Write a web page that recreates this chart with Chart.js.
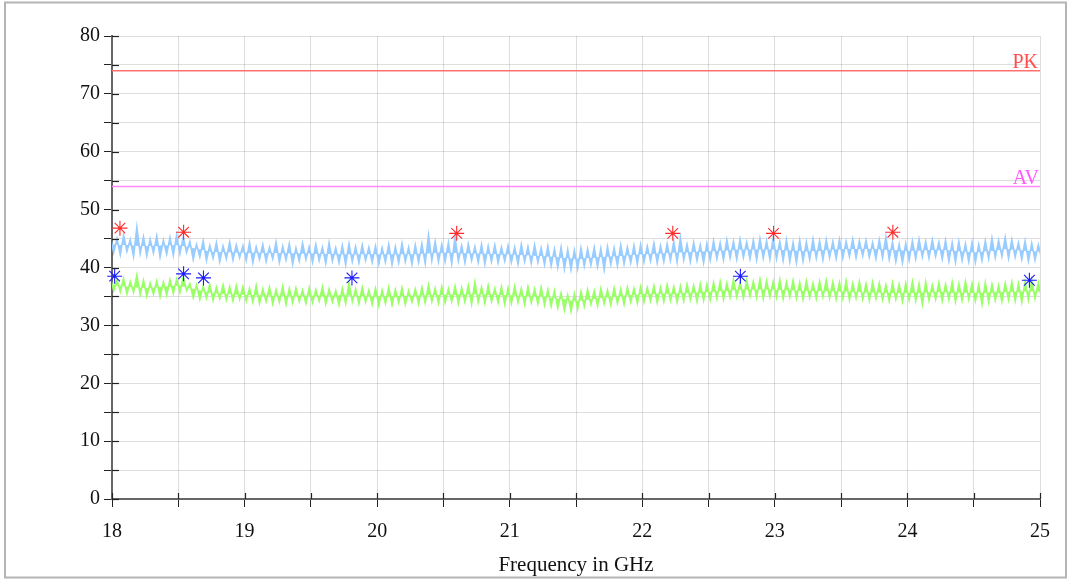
<!DOCTYPE html>
<html>
<head>
<meta charset="utf-8">
<script src="https://cdn.jsdelivr.net/npm/chart.js@4"></script>
<style>
  html, body { margin:0; padding:0; background:#fff; }
  #wrap { position:absolute; left:0; top:0; width:1068px; height:580px; }
</style>
</head>
<body>
<div id="wrap"><canvas id="chart" width="1068" height="580"></canvas></div>
<script>
// frequency axis (GHz) and level axis (dBµV/m)
const xMin = 18, xMax = 25;
const yMin = 0, yMax = 80;

// limit lines
const limitPK = 74;
const limitAV = 54;

// trace envelope, one bin every 0.05 GHz starting at 18.00 (hi = top of noise, lo = bottom)
const traceStart = 18;
const traceStep = 0.05;

const peakHi = [
  45.4, 45.0, 45.6, 44.8, 47.0, 45.3, 44.9, 45.5, 44.7, 45.2,
  45.6, 45.3, 44.5, 44.0, 44.6, 43.8, 44.3, 43.7, 44.4, 43.9,
  43.8, 44.3, 43.6, 44.0, 43.5, 44.4, 43.7, 44.1, 43.4, 44.2,
  43.6, 44.0, 43.5, 44.3, 43.4, 43.8, 44.1, 43.6, 43.9, 43.5,
  43.7, 43.4, 44.0, 43.6, 44.2, 43.5, 43.9, 44.1, 45.6, 44.5,
  44.0, 44.3, 45.3, 43.8, 44.1, 43.6, 44.0, 43.7, 43.9, 43.5,
  43.8, 43.5, 44.0, 43.6, 43.9, 43.4, 43.7, 43.2, 43.5, 43.1,
  43.0, 43.4, 43.2, 43.5, 43.3, 43.6, 43.4, 43.9, 43.5, 43.8,
  44.0, 43.7, 44.2, 43.8, 44.1, 44.5, 45.2, 44.0, 44.3, 43.9,
  44.2, 44.6, 44.3, 44.8, 44.5, 44.9, 44.4, 44.7, 45.0, 44.6,
  45.2, 44.5, 44.8, 44.3, 44.7, 44.4, 44.9, 44.6, 44.8, 44.5,
  44.8, 44.5, 44.9, 44.6, 44.7, 44.3, 44.8, 45.3, 44.4, 44.0,
  44.2, 44.6, 44.9, 44.5, 44.8, 44.4, 44.7, 44.3, 44.5, 44.1,
  44.4, 44.0, 44.6, 45.1, 44.7, 45.2, 44.8, 44.3, 44.6, 44.2,
  43.9
];
const peakLo = [
  42.6, 42.2, 42.8, 41.9, 42.4, 42.0, 42.5, 41.8, 42.3, 42.1,
  42.4, 42.6, 41.4, 41.8, 41.2, 41.6, 41.0, 41.5, 41.3, 41.7,
  41.2, 40.8, 41.4, 41.0, 41.5, 40.9, 41.3, 40.6, 41.1, 41.4,
  40.9, 41.2, 40.7, 41.1, 40.8, 40.5, 41.0, 40.8, 41.2, 40.9,
  40.6, 40.9, 40.5, 40.8, 41.0, 40.6, 40.9, 40.7, 41.2, 41.0,
  41.0, 40.7, 41.1, 40.8, 41.2, 40.9, 40.6, 41.0, 40.8, 41.1,
  40.9, 40.6, 41.0, 40.7, 40.9, 40.5, 40.3, 40.0, 39.7, 39.6,
  39.8, 40.2, 40.4, 40.1, 39.6, 40.5, 40.3, 40.6, 40.8, 40.6,
  40.9, 41.1, 40.8, 41.0, 41.2, 40.9, 41.3, 41.0, 41.2, 40.8,
  41.2, 41.5, 41.3, 41.6, 41.4, 41.7, 41.5, 41.3, 41.6, 41.4,
  41.5, 41.2, 41.0, 40.8, 41.1, 41.4, 41.6, 41.3, 41.7, 41.5,
  41.6, 41.9, 41.7, 42.0, 41.8, 41.5, 41.7, 41.4, 41.0, 40.8,
  41.2, 41.5, 41.8, 41.6, 41.9, 41.4, 41.1, 40.9, 41.2, 41.0,
  40.9, 41.2, 41.5, 41.7, 41.9, 41.6, 41.8, 41.4, 41.1, 41.3,
  41.4
];
const avgHi = [
  38.3, 37.9, 38.1, 37.6, 38.7, 37.8, 37.3, 37.7, 37.5, 37.9,
  38.0, 38.4, 37.2, 37.0, 36.8, 37.1, 36.6, 37.0, 36.7, 36.9,
  36.7, 36.4, 36.9, 36.3, 36.6, 36.2, 36.8, 36.4, 36.5, 36.1,
  36.5, 36.2, 36.7, 36.3, 36.0, 36.4, 37.4, 36.3, 36.6, 36.1,
  36.4, 36.1, 36.6, 36.2, 36.5, 36.0, 36.3, 36.6, 37.0, 36.4,
  36.7, 36.3, 36.8, 36.5, 36.9, 37.5, 36.6, 36.9, 36.4, 36.7,
  36.5, 36.8, 36.4, 36.7, 36.3, 36.6, 36.2, 36.0, 35.6, 35.3,
  35.5, 35.9, 36.2, 36.0, 36.4, 36.1, 36.5, 36.3, 36.6, 36.4,
  36.7, 36.5, 36.9, 36.6, 37.0, 36.7, 36.8, 37.1, 36.9, 37.2,
  37.1, 37.4, 37.6, 37.3, 37.9, 37.5, 37.8, 37.6, 38.0, 37.7,
  37.6, 37.9, 37.5, 37.8, 37.4, 37.7, 37.3, 37.6, 37.8, 37.5,
  37.4, 37.7, 37.3, 37.6, 37.2, 37.5, 37.3, 37.0, 37.4, 37.1,
  37.3, 37.6, 37.2, 37.5, 37.0, 37.4, 37.1, 37.5, 37.2, 37.6,
  37.3, 37.0, 37.4, 37.1, 36.9, 37.3, 37.5, 37.2, 37.6, 37.9,
  37.4
];
const avgLo = [
  36.0, 35.8, 35.4, 35.7, 35.3, 35.0, 35.4, 34.9, 35.2, 35.5,
  35.7, 36.0, 34.8, 34.5, 34.7, 34.3, 34.6, 34.4, 34.2, 34.5,
  34.2, 34.0, 33.8, 34.1, 33.7, 34.0, 33.6, 33.9, 34.1, 33.8,
  33.9, 34.2, 33.7, 34.0, 33.5, 33.8, 34.1, 33.7, 34.0, 33.6,
  33.4, 33.8, 33.5, 33.9, 33.6, 34.0, 33.7, 33.9, 34.1, 33.8,
  33.9, 34.1, 33.8, 34.0, 33.7, 34.0, 33.8, 34.1, 33.9, 33.6,
  33.8, 34.0, 33.6, 33.9, 33.7, 33.5, 33.3, 33.0, 32.6, 32.4,
  32.8, 33.3, 33.6, 33.4, 33.7, 33.5, 33.8, 33.6, 34.0, 33.8,
  34.0, 34.2, 33.9, 34.1, 34.3, 34.0, 34.2, 34.4, 34.1, 34.3,
  34.4, 34.6, 34.5, 34.8, 34.9, 34.7, 35.0, 34.8, 34.6, 34.9,
  34.8, 34.6, 34.9, 34.7, 34.5, 34.8, 34.6, 34.9, 34.7, 34.5,
  34.6, 34.4, 34.7, 34.5, 34.3, 34.6, 34.4, 34.2, 34.5, 34.1,
  34.4, 34.2, 33.6, 34.3, 34.5, 34.2, 34.4, 34.1, 34.3, 34.5,
  34.2, 33.6, 34.0, 34.3, 34.1, 34.4, 34.2, 34.0, 34.4, 34.6,
  34.5
];

// middle of each noise band, read every 0.25 GHz from 18.00
const centerStep = 0.25;
const peakMid = [
  44.0, 43.7, 43.9, 42.7, 42.6, 42.5, 42.4, 42.3, 42.3, 42.3,
  42.6, 42.4, 42.3, 42.0, 41.5, 41.9, 42.3, 42.6, 42.8, 43.1,
  43.1, 42.8, 43.2, 43.2, 42.9, 43.1, 42.6, 43.2, 42.7
];
const avgMid = [
  37.0, 36.4, 36.9, 35.6, 35.3, 35.1, 35.1, 35.2, 35.0, 35.1,
  35.3, 35.4, 35.2, 35.0, 34.2, 34.9, 35.4, 35.5, 35.8, 36.2,
  36.2, 36.0, 35.9, 35.7, 35.6, 35.8, 35.6, 35.8, 35.9
];

// marked peaks
const pkMarkFreq = [18.06, 18.54, 20.60, 22.23, 22.99, 23.89];
const pkMarkLevel = [46.8, 46.1, 45.9, 45.9, 45.9, 46.1];
const avMarkFreq = [18.02, 18.54, 18.69, 19.81, 22.74, 24.92];
const avMarkLevel = [38.5, 38.9, 38.2, 38.2, 38.5, 37.8];

const serif = "'Liberation Serif', 'Times New Roman', serif";

function envelope(hi, lo){
  const pts = [];
  for(let i=0;i<hi.length;i++){
    const f = traceStart + i*traceStep;
    pts.push({x: f - traceStep/4, y: hi[i]});
    pts.push({x: f + traceStep/4, y: lo[i]});
  }
  return pts;
}
const midLine = (arr) => arr.map((v,i)=>({x: traceStart + i*centerStep, y: v}));
const pairs = (xs, ys) => xs.map((x,i)=>({x, y: ys[i]}));

// outer frame, inner tick halves and limit labels
const decor = {
  id:'decor',
  beforeDraw(chart){
    const c = chart.ctx;
    c.save();
    c.fillStyle = '#fff';
    c.fillRect(0,0,chart.width,chart.height);
    c.strokeStyle = '#b4b4b4';
    c.lineWidth = 2;
    c.strokeRect(5, 2.5, 1061, 575);
    c.restore();
  },
  afterDraw(chart){
    const c = chart.ctx, xs = chart.scales.x, ys = chart.scales.y;
    c.save();
    c.strokeStyle = '#222';
    c.lineWidth = 1.2;
    ys.ticks.forEach(t=>{
      const py = Math.round(ys.getPixelForValue(t.value)) + 0.5;
      c.beginPath(); c.moveTo(xs.left, py); c.lineTo(xs.left + 7, py); c.stroke();
    });
    xs.ticks.forEach(t=>{
      const px = Math.round(xs.getPixelForValue(t.value)) + 0.5;
      c.beginPath(); c.moveTo(px, ys.bottom); c.lineTo(px, ys.bottom - 6); c.stroke();
    });
    c.font = "20px " + serif;
    c.textAlign = 'right';
    c.textBaseline = 'alphabetic';
    c.fillStyle = '#ff4d4d';
    c.fillText('PK', xs.getPixelForValue(xMax) - 2, ys.getPixelForValue(limitPK) - 2.5);
    c.fillStyle = '#ff55ff';
    c.fillText('AV', xs.getPixelForValue(xMax) - 1, ys.getPixelForValue(limitAV) - 2.5);
    c.restore();
  }
};

new Chart(document.getElementById('chart'), {
  type:'line',
  data:{
    datasets:[
      { type:'scatter', label:'PK peaks', data: pairs(pkMarkFreq, pkMarkLevel), order:0, clip:false,
        pointStyle:'star', pointRadius:7.5, borderColor:'#ff2a2a', backgroundColor:'#ff2a2a', borderWidth:1.1 },
      { type:'scatter', label:'AV peaks', data: pairs(avMarkFreq, avMarkLevel), order:0, clip:false,
        pointStyle:'star', pointRadius:7.5, borderColor:'#1a1aff', backgroundColor:'#1a1aff', borderWidth:1.1 },
      { label:'PK limit', data:[{x:xMin,y:limitPK},{x:xMax,y:limitPK}], order:1,
        borderColor:'#ff7070', borderWidth:1.5, pointRadius:0 },
      { label:'AV limit', data:[{x:xMin,y:limitAV},{x:xMax,y:limitAV}], order:1,
        borderColor:'#ff88ff', borderWidth:1.5, pointRadius:0 },
      { label:'Peak', data: envelope(peakHi, peakLo), order:2, fill:5,
        borderColor:'#99ccff', backgroundColor:'#99ccff', borderWidth:1.6, pointRadius:0, tension:0 },
      { label:'Peak mid', data: midLine(peakMid), order:3,
        borderColor:'#99ccff', borderWidth:0, pointRadius:0 },
      { label:'Average', data: envelope(avgHi, avgLo), order:2, fill:7,
        borderColor:'#99ff66', backgroundColor:'#99ff66', borderWidth:1.6, pointRadius:0, tension:0 },
      { label:'Average mid', data: midLine(avgMid), order:3,
        borderColor:'#99ff66', borderWidth:0, pointRadius:0 }
    ]
  },
  options:{
    responsive:false,
    animation:false,
    layout:{ padding:{ left:0, top:36, right:28, bottom:0 } },
    plugins:{ legend:{ display:false }, tooltip:{ enabled:false } },
    scales:{
      x:{
        type:'linear', min:xMin, max:xMax,
        afterFit(s){ s.height = 81; },
        border:{ color:'#666', width:2 },
        grid:{ color:'rgba(0,0,0,0.13)', lineWidth:1, tickLength:8, tickColor:'#222', drawTicks:true },
        ticks:{ stepSize:0.5, autoSkip:false, maxRotation:0, padding:13, color:'#111',
          font:{ family:serif, size:20 },
          callback:(v)=> Number.isInteger(v) ? String(v) : '' },
        title:{ display:true, text:'Frequency in GHz', color:'#111',
          font:{ family:serif, size:21 }, padding:{ top:0, bottom:2 } }
      },
      y:{
        type:'linear', min:yMin, max:yMax,
        afterFit(s){ s.width = 112; },
        border:{ color:'#666', width:2 },
        grid:{ color:'rgba(0,0,0,0.13)', lineWidth:1, tickLength:8, tickColor:'#222', drawTicks:true },
        ticks:{ stepSize:5, autoSkip:false, padding:4, color:'#111',
          font:{ family:serif, size:20 },
          callback:(v)=> v % 10 === 0 ? String(v) : '' }
      }
    }
  },
  plugins:[decor]
});
</script>
</body>
</html>
